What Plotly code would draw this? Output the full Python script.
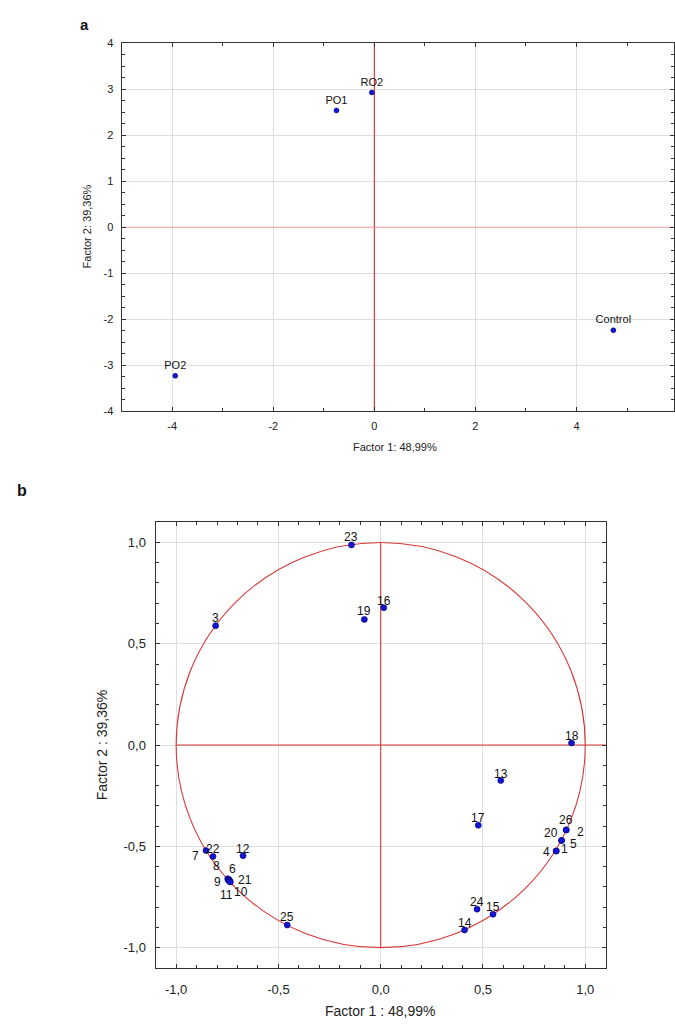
import plotly.graph_objects as go

# ---- Panel a: scores ----
a_labels = ["PO1", "RO2", "Control", "PO2"]
a_x = [-0.75, -0.05, 4.73, -3.94]
a_y = [2.54, 2.93, -2.24, -3.23]
a_xticks = [-4, -2, 0, 2, 4]
a_yticks = [-4, -3, -2, -1, 0, 1, 2, 3, 4]

# ---- Panel b: loadings ----
b_labels = ["23", "3", "19", "16", "18", "13", "17", "26", "2", "20", "5", "4", "1",
            "24", "15", "14", "7", "22", "12", "8", "6", "9", "21", "11", "10", "25"]
b_x = [-0.143, -0.807, -0.080, 0.015, 0.933, 0.587, 0.477, 0.907, 0.907, 0.884, 0.884,
       0.858, 0.858, 0.471, 0.549, 0.410, -0.854, -0.820, -0.673, -0.748, -0.742,
       -0.745, -0.738, -0.740, -0.735, -0.457]
b_y = [0.988, 0.589, 0.620, 0.678, 0.010, -0.175, -0.396, -0.419, -0.419, -0.471, -0.471,
       -0.523, -0.523, -0.810, -0.835, -0.913, -0.521, -0.550, -0.546, -0.660, -0.664,
       -0.667, -0.670, -0.672, -0.676, -0.888]
# label offsets from the marker, in pixels (right, down)
b_dx = [0, 0, 0, 0, 0, 0, 0, 0, 14, -11, 12, -10, 8,
        0, 0, 0, -11, 0, 0, -11, 4, -11, 15, -3, 11, 0]
b_dy = [-8, -8, -8, -7, -7, -7, -7, -10, 2, -7, 4, 1, -2,
        -7, -7, -7, 5, -7, -7, -13, -11, 2, -1, 14, 10, -8]
b_ticks = [-1.0, -0.5, 0.0, 0.5, 1.0]
b_ticktext = ["-1,0", "-0,5", "0,0", "0,5", "1,0"]

FONT = "Arial, Liberation Sans, sans-serif"
W, H = 675, 1025

fig = go.Figure()

fig.add_trace(go.Scatter(
    x=a_x, y=a_y, mode="markers+text", text=a_labels, textposition="top center",
    textfont=dict(family=FONT, size=11, color="#111"),
    marker=dict(size=5, color="#1414d8", line=dict(width=0.5, color="#000060")),
    xaxis="x", yaxis="y", showlegend=False, cliponaxis=False))

fig.add_trace(go.Scatter(
    x=b_x, y=b_y, mode="markers",
    marker=dict(size=6, color="#1414d8", line=dict(width=0.6, color="#000060")),
    xaxis="x2", yaxis="y2", showlegend=False, cliponaxis=False))

axis_common = dict(showline=True, mirror="allticks", linecolor="#333333", linewidth=1.3,
                   zeroline=False, showgrid=True, gridcolor="#dedede", gridwidth=1,
                   ticks="inside", ticklen=4, tickcolor="#333333",
                   tickfont=dict(family=FONT, color="#222"))

ax_l, ax_r, ax_t, ax_b = 121.7, 674.0, 37.7, 410.0
bx_l, bx_r, bx_t, bx_b = 155.7, 605.7, 522.3, 973.3

fig.update_layout(
    width=W, height=H, margin=dict(l=0, r=0, t=0, b=0),
    paper_bgcolor="white", plot_bgcolor="white",
    xaxis=dict(axis_common, domain=[ax_l / W, ax_r / W], range=[-5, 5.93],
               tickvals=a_xticks, ticktext=[str(v) for v in a_xticks],
               tickfont=dict(family=FONT, size=11, color="#222"), anchor="y",
               ticklabelstandoff=4,
               minor=dict(dtick=1, ticks="inside", ticklen=3, tickcolor="#333", showgrid=False)),
    yaxis=dict(axis_common, domain=[1 - ax_b / H, 1 - ax_t / H], range=[-4, 4],
               tickvals=a_yticks, ticktext=[str(v) for v in a_yticks],
               tickfont=dict(family=FONT, size=11, color="#222"), anchor="x",
               ticklabelstandoff=5,
               minor=dict(dtick=0.25, ticks="inside", ticklen=3, tickcolor="#333", showgrid=False)),
    xaxis2=dict(axis_common, domain=[bx_l / W, bx_r / W], range=[-1.1, 1.1],
                tickvals=b_ticks, ticktext=b_ticktext,
                tickfont=dict(family=FONT, size=13, color="#222"), anchor="y2",
                ticklabelstandoff=9,
                minor=dict(dtick=0.1, ticks="inside", ticklen=3, tickcolor="#333", showgrid=False)),
    yaxis2=dict(axis_common, domain=[1 - bx_b / H, 1 - bx_t / H], range=[-1.1, 1.1],
                tickvals=b_ticks, ticktext=b_ticktext,
                tickfont=dict(family=FONT, size=13, color="#222"), anchor="x2",
                ticklabelstandoff=6,
                minor=dict(dtick=0.1, ticks="inside", ticklen=3, tickcolor="#333", showgrid=False)),
)

shapes = [
    dict(type="line", xref="x", yref="y", x0=0, x1=0, y0=-4, y1=4,
         line=dict(color="#e23a3a", width=1.2), layer="between"),
    dict(type="line", xref="x", yref="y", x0=-5, x1=5.93, y0=0, y1=0,
         line=dict(color="#f5a5a5", width=1.2), layer="between"),
    dict(type="circle", xref="x2", yref="y2", x0=-1, x1=1, y0=-1, y1=1,
         line=dict(color="#d83838", width=1.1), layer="between"),
    dict(type="line", xref="x2", yref="y2", x0=-1, x1=1.1, y0=0, y1=0,
         line=dict(color="#d83838", width=1.1), layer="between"),
    dict(type="line", xref="x2", yref="y2", x0=0, x1=0, y0=-1, y1=1,
         line=dict(color="#d83838", width=1.1), layer="between"),
]
fig.update_layout(shapes=shapes)

def pa(text, x, y, size, bold=False, angle=0):
    return dict(text=f"<b>{text}</b>" if bold else text, x=x / W, y=1 - y / H,
                xref="paper", yref="paper", xanchor="center", yanchor="middle",
                textangle=angle, showarrow=False,
                font=dict(family=FONT, size=size, color="#111" if bold else "#222"))

annotations = [
    pa("a", 85, 19, 15, bold=True),
    pa("b", 22, 490, 16, bold=True),
    pa("Factor 1: 48,99%", 395, 446, 11),
    pa("Factor 2: 39,36%", 87, 223, 11, angle=-90),
    pa("Factor 1 : 48,99%", 380, 1017, 14),
    pa("Factor 2 : 39,36%", 102, 748, 14, angle=-90),
]
for lab, x, y, dx, dy in zip(b_labels, b_x, b_y, b_dx, b_dy):
    annotations.append(dict(text=lab, x=x, y=y, xref="x2", yref="y2",
                            xanchor="center", yanchor="middle", xshift=dx, yshift=-dy,
                            showarrow=False, font=dict(family=FONT, size=12, color="#111")))
fig.update_layout(annotations=annotations)

fig.write_html("out.html")
